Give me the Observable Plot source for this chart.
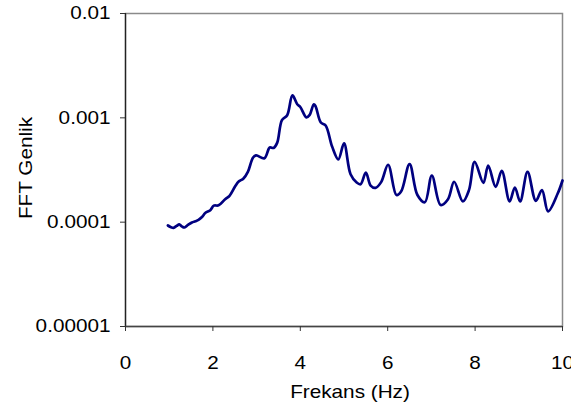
<!DOCTYPE html>
<html>
<head>
<meta charset="utf-8">
<script src="https://cdn.jsdelivr.net/npm/d3@7"></script>
<script src="https://cdn.jsdelivr.net/npm/@observablehq/plot@0.6"></script>
<style>
  html, body { margin: 0; padding: 0; background: #fff; }
  #chart svg { display: block; }
</style>
</head>
<body>
<div id="chart"></div>
<script>
// FFT amplitude spectrum
const freq = [0.97, 1.03, 1.10, 1.17, 1.23, 1.29, 1.35, 1.43, 1.52, 1.60, 1.67, 1.75, 1.83, 1.94, 2.02, 2.13,
  2.28, 2.38, 2.51, 2.59, 2.70, 2.80, 2.92, 2.99, 3.18, 3.30, 3.39, 3.47, 3.58, 3.70, 3.82, 3.93,
  4.00, 4.14, 4.21, 4.31, 4.35, 4.47, 4.58, 4.73, 4.87, 5.00, 5.15, 5.29, 5.38, 5.50, 5.61, 5.72,
  5.85, 6.01, 6.20, 6.31, 6.50, 6.68, 6.85, 7.01, 7.21, 7.38, 7.52, 7.72, 7.86, 7.99, 8.19, 8.30,
  8.47, 8.61, 8.79, 8.91, 9.03, 9.20, 9.39, 9.53, 9.67, 9.89, 10.0];
const amp = [9.29e-5, 9.0e-5, 8.83e-5, 9.2e-5, 9.51e-5, 9.1e-5, 8.89e-5, 9.4e-5, 9.93e-5, 1.02e-4, 1.05e-4, 1.12e-4, 1.23e-4, 1.30e-4, 1.44e-4, 1.45e-4,
  1.66e-4, 1.79e-4, 2.21e-4, 2.45e-4, 2.62e-4, 3.03e-4, 4.17e-4, 4.36e-4, 4.10e-4, 5.20e-4, 5.15e-4, 5.75e-4, 9.51e-4, 1.06e-3, 1.64e-3, 1.35e-3,
  1.27e-3, 1.01e-3, 1.06e-3, 1.35e-3, 1.29e-3, 9.02e-4, 8.45e-4, 5.27e-4, 3.99e-4, 5.68e-4, 2.88e-4, 2.40e-4, 2.31e-4, 2.99e-4, 2.24e-4, 2.13e-4,
  2.42e-4, 3.55e-4, 1.82e-4, 1.98e-4, 3.60e-4, 1.82e-4, 1.55e-4, 2.80e-4, 1.46e-4, 1.66e-4, 2.44e-4, 1.58e-4, 2.03e-4, 3.78e-4, 2.38e-4, 3.49e-4,
  2.18e-4, 3.10e-4, 1.58e-4, 2.15e-4, 1.58e-4, 3.03e-4, 1.60e-4, 2.03e-4, 1.27e-4, 1.88e-4, 2.51e-4];

const xTicks = [0, 2, 4, 6, 8, 10];
const yTicks = [1e-5, 1e-4, 1e-3, 1e-2];
const yTickLabels = ["0.00001", "0.0001", "0.001", "0.01"];

const xLabel = "Frekans (Hz)";
const yLabel = "FFT Genlik";

const series = freq.map((f, i) => ({f, a: amp[i]}));

const font = "'Liberation Sans', Arial, sans-serif";
const fs = 18.5;

const chart = Plot.plot({
  width: 571,
  height: 412,
  marginLeft: 125,
  marginRight: 9,
  marginTop: 13,
  marginBottom: 86,
  style: {fontFamily: font, background: "#fff", color: "#000"},
  x: {domain: [0, 10]},
  y: {type: "log", domain: [1e-5, 1e-2]},
  marks: [
    Plot.frame({stroke: "#8a8a8a", strokeWidth: 1.5}),
    Plot.ruleX([0], {stroke: "#222", strokeWidth: 1.3}),
    Plot.ruleY([1e-5], {stroke: "#444", strokeWidth: 1.3}),
    Plot.axisX({ticks: xTicks, tickSize: 5, tickPadding: 24, fontSize: fs, label: null, stroke: "#333"}),
    Plot.axisY({ticks: yTicks, tickSize: 5, tickPadding: 10, fontSize: fs, label: null, stroke: "#333",
      tickFormat: d => yTickLabels[yTicks.indexOf(d)]}),
    Plot.line(series, {x: "f", y: "a", stroke: "#000080", strokeWidth: 2.7, curve: "catmull-rom"}),
    Plot.text([xLabel], {frameAnchor: "bottom", textAnchor: "middle", lineAnchor: "middle",
      dy: 66, dx: 6, fontSize: fs, text: d => d}),
    Plot.text([yLabel], {frameAnchor: "left", textAnchor: "middle", lineAnchor: "middle",
      dx: -99, dy: -2, rotate: -90, fontSize: fs, text: d => d})
  ]
});

document.getElementById("chart").appendChild(chart);

// widen the glyphs slightly, as in the original chart's typeface
d3.select(chart).selectAll("text").each(function() {
  const len = this.getComputedTextLength();
  if (len > 0) {
    this.setAttribute("textLength", (len * 1.12).toFixed(1));
    this.setAttribute("lengthAdjust", "spacingAndGlyphs");
  }
});
</script>
</body>
</html>
